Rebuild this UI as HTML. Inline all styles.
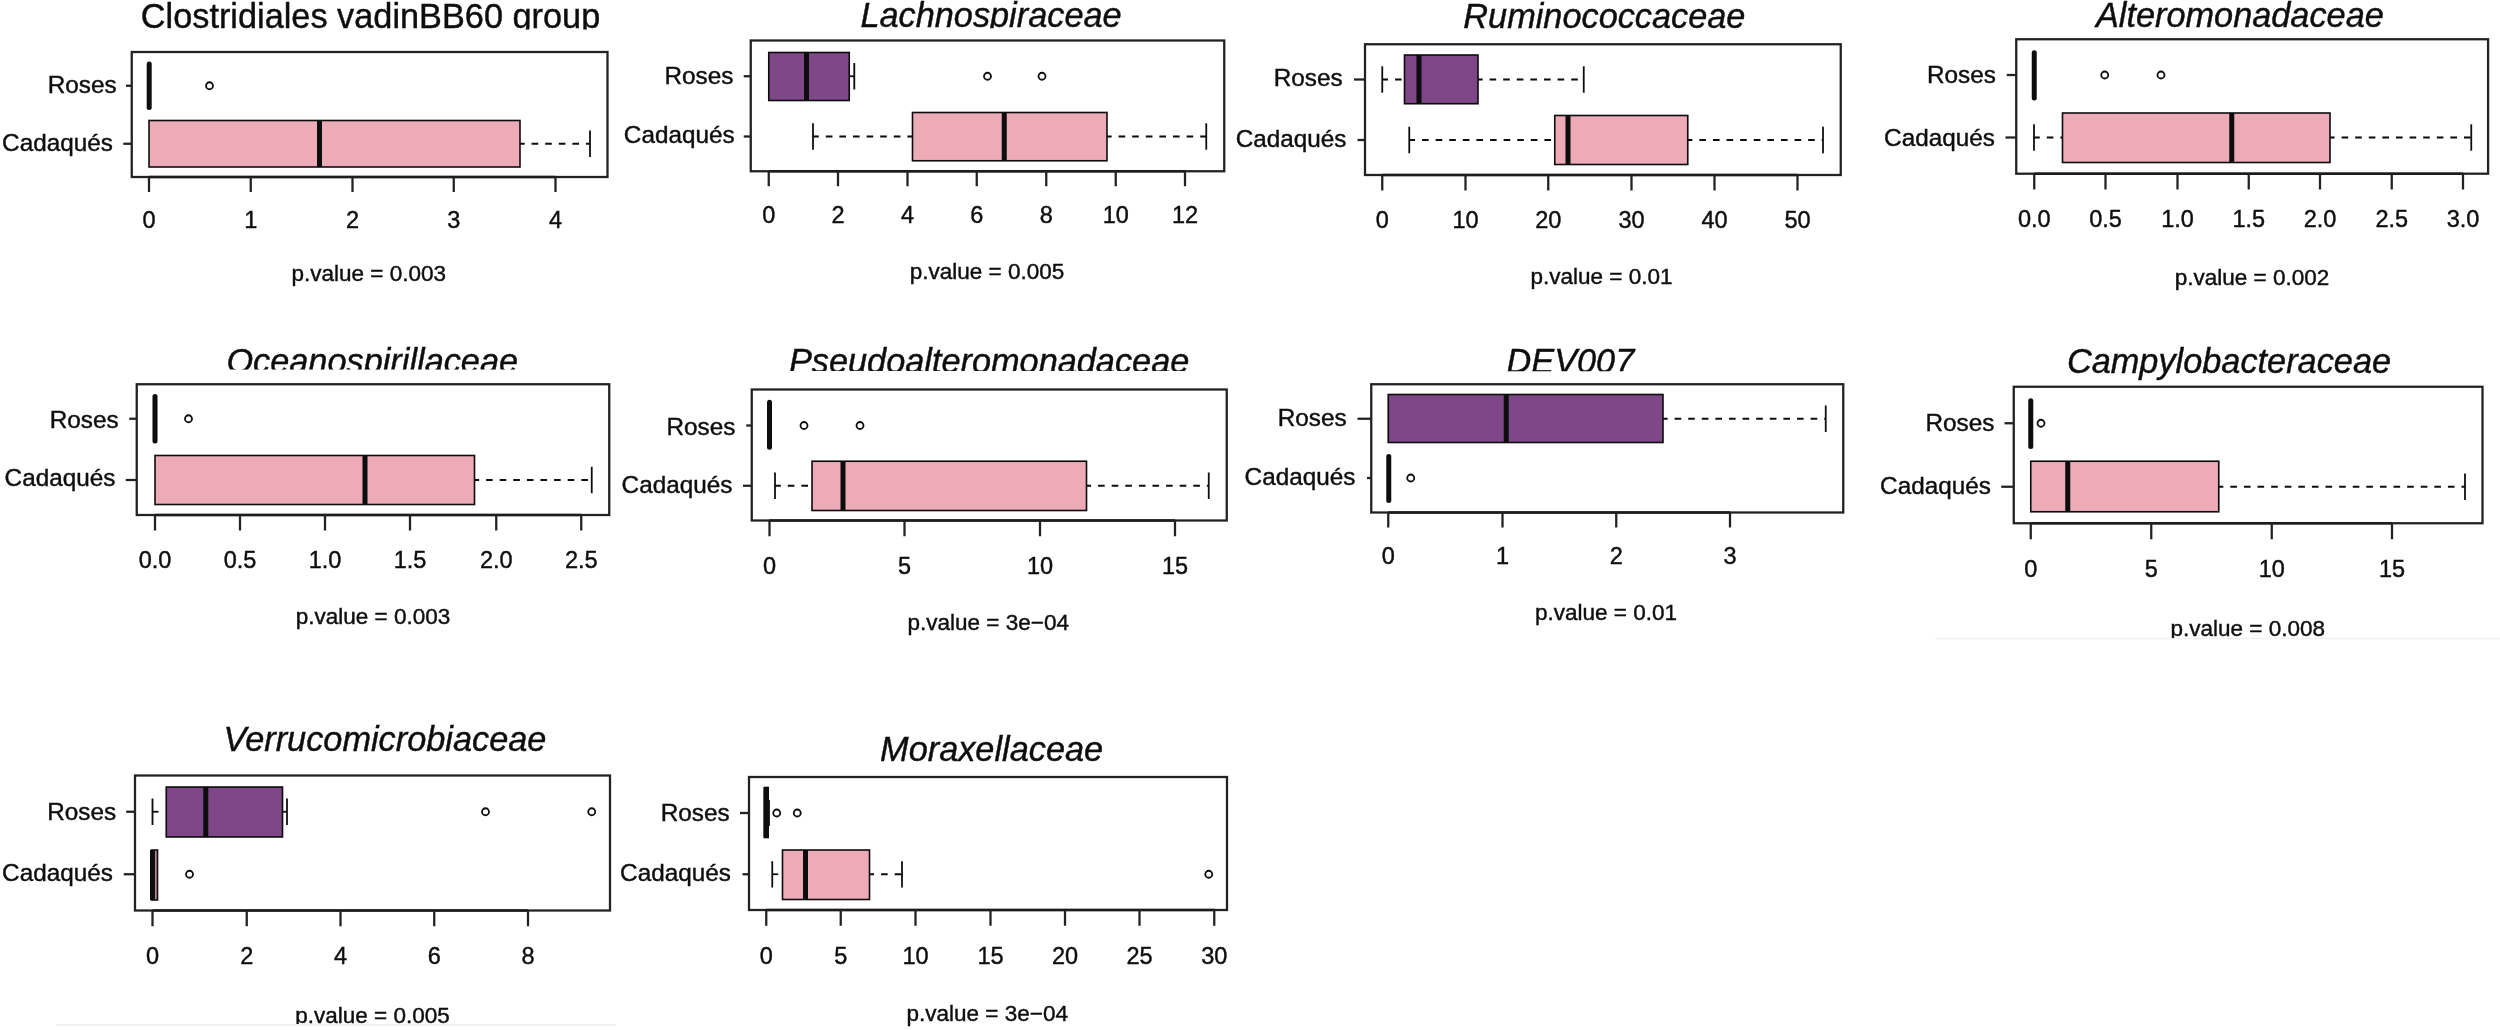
<!DOCTYPE html>
<html lang="en">
<head>
<meta charset="utf-8">
<title>Boxplots: Roses vs Cadaqués</title>
<style>
html,body{margin:0;padding:0;background:#fff;}
body{width:2500px;height:1030px;overflow:hidden;}
svg{display:block;}
svg text{font-family:"Liberation Sans",sans-serif;fill:#0b0b0b;stroke:#0b0b0b;stroke-width:0.4px;}
</style>
</head>
<body>
<svg width="2500" height="1030" viewBox="0 0 2500 1030" stroke="#0b0b0b" fill="#0b0b0b">
<defs>
<filter id="soft" x="0" y="0" width="2500" height="1030" filterUnits="userSpaceOnUse"><feGaussianBlur stdDeviation="0.55"/></filter>
<clipPath id="c1"><rect x="111" y="0" width="519" height="29.5"/></clipPath>
<clipPath id="c2"><rect x="831" y="0" width="320" height="28.3"/></clipPath>
<clipPath id="c3"><rect x="197.5" y="312.5" width="349.5" height="57"/></clipPath>
<clipPath id="c4"><rect x="759.5" y="313" width="459.25" height="57.9"/></clipPath>
<clipPath id="c5"><rect x="1477" y="313" width="186.75" height="58.25"/></clipPath>
<clipPath id="c6"><rect x="2151.5" y="596" width="192.5" height="42"/></clipPath>
<clipPath id="c7"><rect x="275" y="983" width="195" height="41"/></clipPath>
</defs>
<rect x="0" y="0" width="2500" height="1030" fill="#fff" stroke="none"/>
<g filter="url(#soft)">
<line x1="56" y1="1025" x2="616" y2="1025" stroke="#ededed" stroke-width="1.5"/>
<line x1="1935" y1="638.5" x2="2500" y2="638.5" stroke="#f1f1f1" stroke-width="1.5"/>
<g>
<text x="370.5" y="28" font-size="34.3" text-anchor="middle" clip-path="url(#c1)">Clostridiales vadinBB60 group</text>
<line x1="126" y1="85.75" x2="131.75" y2="85.75" stroke-width="2.3" stroke="#242424"/>
<text x="82.25" y="93" font-size="24.3" text-anchor="middle">Roses</text>
<line x1="149.2" y1="64" x2="149.2" y2="107.5" stroke-width="5" stroke-linecap="round"/>
<circle cx="209.5" cy="85.75" r="3.5" fill="none" stroke-width="1.8"/>
<line x1="123.3" y1="143.75" x2="131.75" y2="143.75" stroke-width="2.3" stroke="#242424"/>
<text x="57.5" y="151" font-size="24.3" text-anchor="middle">Cadaqués</text>
<line x1="520" y1="143.75" x2="590" y2="143.75" stroke-width="1.8" stroke-dasharray="6.6 7" stroke-dashoffset="2"/>
<line x1="590" y1="130.55" x2="590" y2="156.95" stroke-width="1.8"/>
<rect x="149" y="120.5" width="371" height="46.5" fill="#edabb8" stroke-width="1.6"/>
<line x1="319.5" y1="120.5" x2="319.5" y2="167" stroke-width="5"/>
<rect x="131.75" y="52" width="475.75" height="125" fill="none" stroke="#242424" stroke-width="2.3"/>
<line x1="149" y1="177" x2="555.5" y2="177" stroke-width="2.6" stroke="#1c1c1c"/>
<line x1="149" y1="177" x2="149" y2="192" stroke-width="2.3" stroke="#242424"/>
<text x="149" y="227.6" font-size="23.5" text-anchor="middle">0</text>
<line x1="250.75" y1="177" x2="250.75" y2="192" stroke-width="2.3" stroke="#242424"/>
<text x="250.75" y="227.6" font-size="23.5" text-anchor="middle">1</text>
<line x1="352.5" y1="177" x2="352.5" y2="192" stroke-width="2.3" stroke="#242424"/>
<text x="352.5" y="227.6" font-size="23.5" text-anchor="middle">2</text>
<line x1="453.75" y1="177" x2="453.75" y2="192" stroke-width="2.3" stroke="#242424"/>
<text x="453.75" y="227.6" font-size="23.5" text-anchor="middle">3</text>
<line x1="555.5" y1="177" x2="555.5" y2="192" stroke-width="2.3" stroke="#242424"/>
<text x="555.5" y="227.6" font-size="23.5" text-anchor="middle">4</text>
<text x="368.75" y="281" font-size="22.5" text-anchor="middle">p.value = 0.003</text>
</g>
<g>
<text x="991" y="27" font-size="34.3" text-anchor="middle" font-style="italic" clip-path="url(#c2)">Lachnospiraceae</text>
<line x1="743.75" y1="76.25" x2="750.75" y2="76.25" stroke-width="2.3" stroke="#242424"/>
<text x="699" y="84.25" font-size="24.3" text-anchor="middle">Roses</text>
<line x1="849.25" y1="76.25" x2="854.3" y2="76.25" stroke-width="1.8"/>
<line x1="854.3" y1="63.05" x2="854.3" y2="89.45" stroke-width="1.8"/>
<rect x="768.75" y="52.5" width="80.5" height="48" fill="#7d4788" stroke-width="1.6"/>
<line x1="806.5" y1="52.5" x2="806.5" y2="100.5" stroke-width="5"/>
<circle cx="987.5" cy="76.25" r="3.5" fill="none" stroke-width="1.8"/>
<circle cx="1042" cy="76.25" r="3.5" fill="none" stroke-width="1.8"/>
<line x1="743.75" y1="136.5" x2="750.75" y2="136.5" stroke-width="2.3" stroke="#242424"/>
<text x="679.25" y="143" font-size="24.3" text-anchor="middle">Cadaqués</text>
<line x1="813" y1="136.5" x2="912.5" y2="136.5" stroke-width="1.8" stroke-dasharray="6.6 7" stroke-dashoffset="0.8"/>
<line x1="813" y1="123.3" x2="813" y2="149.7" stroke-width="1.8"/>
<line x1="1107" y1="136.5" x2="1206.25" y2="136.5" stroke-width="1.8" stroke-dasharray="6.6 7" stroke-dashoffset="2"/>
<line x1="1206.25" y1="123.3" x2="1206.25" y2="149.7" stroke-width="1.8"/>
<rect x="912.5" y="112.5" width="194.5" height="48.25" fill="#edabb8" stroke-width="1.6"/>
<line x1="1004.25" y1="112.5" x2="1004.25" y2="160.75" stroke-width="5"/>
<rect x="750.75" y="40.5" width="473.5" height="130.75" fill="none" stroke="#242424" stroke-width="2.3"/>
<line x1="768.75" y1="171.25" x2="1185" y2="171.25" stroke-width="2.6" stroke="#1c1c1c"/>
<line x1="768.75" y1="171.25" x2="768.75" y2="186.25" stroke-width="2.3" stroke="#242424"/>
<text x="768.75" y="223.1" font-size="23.5" text-anchor="middle">0</text>
<line x1="838" y1="171.25" x2="838" y2="186.25" stroke-width="2.3" stroke="#242424"/>
<text x="838" y="223.1" font-size="23.5" text-anchor="middle">2</text>
<line x1="907.5" y1="171.25" x2="907.5" y2="186.25" stroke-width="2.3" stroke="#242424"/>
<text x="907.5" y="223.1" font-size="23.5" text-anchor="middle">4</text>
<line x1="976.75" y1="171.25" x2="976.75" y2="186.25" stroke-width="2.3" stroke="#242424"/>
<text x="976.75" y="223.1" font-size="23.5" text-anchor="middle">6</text>
<line x1="1046.25" y1="171.25" x2="1046.25" y2="186.25" stroke-width="2.3" stroke="#242424"/>
<text x="1046.25" y="223.1" font-size="23.5" text-anchor="middle">8</text>
<line x1="1115.75" y1="171.25" x2="1115.75" y2="186.25" stroke-width="2.3" stroke="#242424"/>
<text x="1115.75" y="223.1" font-size="23.5" text-anchor="middle">10</text>
<line x1="1185" y1="171.25" x2="1185" y2="186.25" stroke-width="2.3" stroke="#242424"/>
<text x="1185" y="223.1" font-size="23.5" text-anchor="middle">12</text>
<text x="987" y="279" font-size="22.5" text-anchor="middle">p.value = 0.005</text>
</g>
<g>
<text x="1604.38" y="27.5" font-size="34.3" text-anchor="middle" font-style="italic">Ruminococcaceae</text>
<line x1="1354" y1="79.5" x2="1365" y2="79.5" stroke-width="2.3" stroke="#242424"/>
<text x="1308.25" y="86.25" font-size="24.3" text-anchor="middle">Roses</text>
<line x1="1382.25" y1="79.5" x2="1404.5" y2="79.5" stroke-width="1.8" stroke-dasharray="6.6 7" stroke-dashoffset="0.8"/>
<line x1="1382.25" y1="66.3" x2="1382.25" y2="92.7" stroke-width="1.8"/>
<line x1="1478" y1="79.5" x2="1583.75" y2="79.5" stroke-width="1.8" stroke-dasharray="6.6 7" stroke-dashoffset="2"/>
<line x1="1583.75" y1="66.3" x2="1583.75" y2="92.7" stroke-width="1.8"/>
<rect x="1404.5" y="55" width="73.5" height="48.7" fill="#7d4788" stroke-width="1.6"/>
<line x1="1419" y1="55" x2="1419" y2="103.7" stroke-width="5"/>
<line x1="1357.5" y1="140" x2="1365" y2="140" stroke-width="2.3" stroke="#242424"/>
<text x="1291.12" y="147" font-size="24.3" text-anchor="middle">Cadaqués</text>
<line x1="1409.25" y1="140" x2="1554.75" y2="140" stroke-width="1.8" stroke-dasharray="6.6 7" stroke-dashoffset="0.8"/>
<line x1="1409.25" y1="126.8" x2="1409.25" y2="153.2" stroke-width="1.8"/>
<line x1="1687.75" y1="140" x2="1823" y2="140" stroke-width="1.8" stroke-dasharray="6.6 7" stroke-dashoffset="2"/>
<line x1="1823" y1="126.8" x2="1823" y2="153.2" stroke-width="1.8"/>
<rect x="1554.75" y="115.5" width="133" height="49" fill="#edabb8" stroke-width="1.6"/>
<line x1="1568" y1="115.5" x2="1568" y2="164.5" stroke-width="5"/>
<rect x="1365" y="44.25" width="475.75" height="130.75" fill="none" stroke="#242424" stroke-width="2.3"/>
<line x1="1382.25" y1="175" x2="1797.5" y2="175" stroke-width="2.6" stroke="#1c1c1c"/>
<line x1="1382.25" y1="175" x2="1382.25" y2="190.5" stroke-width="2.3" stroke="#242424"/>
<text x="1382.25" y="227.6" font-size="23.5" text-anchor="middle">0</text>
<line x1="1465.5" y1="175" x2="1465.5" y2="190.5" stroke-width="2.3" stroke="#242424"/>
<text x="1465.5" y="227.6" font-size="23.5" text-anchor="middle">10</text>
<line x1="1548.25" y1="175" x2="1548.25" y2="190.5" stroke-width="2.3" stroke="#242424"/>
<text x="1548.25" y="227.6" font-size="23.5" text-anchor="middle">20</text>
<line x1="1631.5" y1="175" x2="1631.5" y2="190.5" stroke-width="2.3" stroke="#242424"/>
<text x="1631.5" y="227.6" font-size="23.5" text-anchor="middle">30</text>
<line x1="1714.5" y1="175" x2="1714.5" y2="190.5" stroke-width="2.3" stroke="#242424"/>
<text x="1714.5" y="227.6" font-size="23.5" text-anchor="middle">40</text>
<line x1="1797.5" y1="175" x2="1797.5" y2="190.5" stroke-width="2.3" stroke="#242424"/>
<text x="1797.5" y="227.6" font-size="23.5" text-anchor="middle">50</text>
<text x="1601.5" y="284" font-size="22.5" text-anchor="middle">p.value = 0.01</text>
</g>
<g>
<text x="2239.88" y="27" font-size="34.3" text-anchor="middle" font-style="italic">Alteromonadaceae</text>
<line x1="2006.75" y1="75" x2="2016.25" y2="75" stroke-width="2.3" stroke="#242424"/>
<text x="1961.5" y="82.5" font-size="24.3" text-anchor="middle">Roses</text>
<line x1="2034.25" y1="52.75" x2="2034.25" y2="98" stroke-width="5" stroke-linecap="round"/>
<circle cx="2104.75" cy="75" r="3.5" fill="none" stroke-width="1.8"/>
<circle cx="2161" cy="75" r="3.5" fill="none" stroke-width="1.8"/>
<line x1="2005.5" y1="137.5" x2="2016.25" y2="137.5" stroke-width="2.3" stroke="#242424"/>
<text x="1939.5" y="145.5" font-size="24.3" text-anchor="middle">Cadaqués</text>
<line x1="2034" y1="137.5" x2="2062.5" y2="137.5" stroke-width="1.8" stroke-dasharray="6.6 7" stroke-dashoffset="0.8"/>
<line x1="2034" y1="124.3" x2="2034" y2="150.7" stroke-width="1.8"/>
<line x1="2330" y1="137.5" x2="2471.25" y2="137.5" stroke-width="1.8" stroke-dasharray="6.6 7" stroke-dashoffset="2"/>
<line x1="2471.25" y1="124.3" x2="2471.25" y2="150.7" stroke-width="1.8"/>
<rect x="2062.5" y="113" width="267.5" height="49.5" fill="#edabb8" stroke-width="1.6"/>
<line x1="2231.75" y1="113" x2="2231.75" y2="162.5" stroke-width="5"/>
<rect x="2016.25" y="39.25" width="471.85" height="134.45" fill="none" stroke="#242424" stroke-width="2.3"/>
<line x1="2034.25" y1="173.7" x2="2463" y2="173.7" stroke-width="2.6" stroke="#1c1c1c"/>
<line x1="2034.25" y1="173.7" x2="2034.25" y2="189.5" stroke-width="2.3" stroke="#242424"/>
<text x="2034.25" y="227.35" font-size="23.5" text-anchor="middle">0.0</text>
<line x1="2105.5" y1="173.7" x2="2105.5" y2="189.5" stroke-width="2.3" stroke="#242424"/>
<text x="2105.5" y="227.35" font-size="23.5" text-anchor="middle">0.5</text>
<line x1="2177.5" y1="173.7" x2="2177.5" y2="189.5" stroke-width="2.3" stroke="#242424"/>
<text x="2177.5" y="227.35" font-size="23.5" text-anchor="middle">1.0</text>
<line x1="2248.75" y1="173.7" x2="2248.75" y2="189.5" stroke-width="2.3" stroke="#242424"/>
<text x="2248.75" y="227.35" font-size="23.5" text-anchor="middle">1.5</text>
<line x1="2320" y1="173.7" x2="2320" y2="189.5" stroke-width="2.3" stroke="#242424"/>
<text x="2320" y="227.35" font-size="23.5" text-anchor="middle">2.0</text>
<line x1="2391.75" y1="173.7" x2="2391.75" y2="189.5" stroke-width="2.3" stroke="#242424"/>
<text x="2391.75" y="227.35" font-size="23.5" text-anchor="middle">2.5</text>
<line x1="2463" y1="173.7" x2="2463" y2="189.5" stroke-width="2.3" stroke="#242424"/>
<text x="2463" y="227.35" font-size="23.5" text-anchor="middle">3.0</text>
<text x="2252" y="285" font-size="22.5" text-anchor="middle">p.value = 0.002</text>
</g>
<g>
<text x="372.25" y="372.5" font-size="34.3" text-anchor="middle" font-style="italic" clip-path="url(#c3)">Oceanospirillaceae</text>
<line x1="129.25" y1="418.75" x2="136.75" y2="418.75" stroke-width="2.3" stroke="#242424"/>
<text x="84.12" y="428" font-size="24.3" text-anchor="middle">Roses</text>
<line x1="155" y1="396.5" x2="155" y2="441" stroke-width="5" stroke-linecap="round"/>
<circle cx="188.5" cy="418.75" r="3.5" fill="none" stroke-width="1.8"/>
<line x1="125.75" y1="480" x2="136.75" y2="480" stroke-width="2.3" stroke="#242424"/>
<text x="60" y="486.25" font-size="24.3" text-anchor="middle">Cadaqués</text>
<line x1="474.5" y1="480" x2="591.75" y2="480" stroke-width="1.8" stroke-dasharray="6.6 7" stroke-dashoffset="2"/>
<line x1="591.75" y1="466.8" x2="591.75" y2="493.2" stroke-width="1.8"/>
<rect x="155" y="455.5" width="319.5" height="49" fill="#edabb8" stroke-width="1.6"/>
<line x1="365" y1="455.5" x2="365" y2="504.5" stroke-width="5"/>
<rect x="136.75" y="384.25" width="472.5" height="130.75" fill="none" stroke="#242424" stroke-width="2.3"/>
<line x1="155" y1="515" x2="581.25" y2="515" stroke-width="2.6" stroke="#1c1c1c"/>
<line x1="155" y1="515" x2="155" y2="530.5" stroke-width="2.3" stroke="#242424"/>
<text x="155" y="567.6" font-size="23.5" text-anchor="middle">0.0</text>
<line x1="240" y1="515" x2="240" y2="530.5" stroke-width="2.3" stroke="#242424"/>
<text x="240" y="567.6" font-size="23.5" text-anchor="middle">0.5</text>
<line x1="325" y1="515" x2="325" y2="530.5" stroke-width="2.3" stroke="#242424"/>
<text x="325" y="567.6" font-size="23.5" text-anchor="middle">1.0</text>
<line x1="410" y1="515" x2="410" y2="530.5" stroke-width="2.3" stroke="#242424"/>
<text x="410" y="567.6" font-size="23.5" text-anchor="middle">1.5</text>
<line x1="496.25" y1="515" x2="496.25" y2="530.5" stroke-width="2.3" stroke="#242424"/>
<text x="496.25" y="567.6" font-size="23.5" text-anchor="middle">2.0</text>
<line x1="581.25" y1="515" x2="581.25" y2="530.5" stroke-width="2.3" stroke="#242424"/>
<text x="581.25" y="567.6" font-size="23.5" text-anchor="middle">2.5</text>
<text x="373" y="624" font-size="22.5" text-anchor="middle">p.value = 0.003</text>
</g>
<g>
<text x="989.12" y="373" font-size="34.3" text-anchor="middle" font-style="italic" clip-path="url(#c4)">Pseudoalteromonadaceae</text>
<line x1="746.25" y1="425.5" x2="751.75" y2="425.5" stroke-width="2.3" stroke="#242424"/>
<text x="701" y="434.5" font-size="24.3" text-anchor="middle">Roses</text>
<line x1="769.5" y1="402.25" x2="769.5" y2="447.25" stroke-width="5" stroke-linecap="round"/>
<circle cx="804" cy="425.5" r="3.5" fill="none" stroke-width="1.8"/>
<circle cx="860" cy="425.5" r="3.5" fill="none" stroke-width="1.8"/>
<line x1="743" y1="485.75" x2="751.75" y2="485.75" stroke-width="2.3" stroke="#242424"/>
<text x="677" y="492.5" font-size="24.3" text-anchor="middle">Cadaqués</text>
<line x1="775" y1="485.75" x2="812" y2="485.75" stroke-width="1.8" stroke-dasharray="6.6 7" stroke-dashoffset="0.8"/>
<line x1="775" y1="472.55" x2="775" y2="498.95" stroke-width="1.8"/>
<line x1="1086.5" y1="485.75" x2="1208.75" y2="485.75" stroke-width="1.8" stroke-dasharray="6.6 7" stroke-dashoffset="2"/>
<line x1="1208.75" y1="472.55" x2="1208.75" y2="498.95" stroke-width="1.8"/>
<rect x="812" y="461.25" width="274.5" height="49.25" fill="#edabb8" stroke-width="1.6"/>
<line x1="843" y1="461.25" x2="843" y2="510.5" stroke-width="5"/>
<rect x="751.75" y="389.5" width="475" height="131" fill="none" stroke="#242424" stroke-width="2.3"/>
<line x1="769.5" y1="520.5" x2="1175" y2="520.5" stroke-width="2.6" stroke="#1c1c1c"/>
<line x1="769.5" y1="520.5" x2="769.5" y2="536.25" stroke-width="2.3" stroke="#242424"/>
<text x="769.5" y="573.6" font-size="23.5" text-anchor="middle">0</text>
<line x1="904.5" y1="520.5" x2="904.5" y2="536.25" stroke-width="2.3" stroke="#242424"/>
<text x="904.5" y="573.6" font-size="23.5" text-anchor="middle">5</text>
<line x1="1040" y1="520.5" x2="1040" y2="536.25" stroke-width="2.3" stroke="#242424"/>
<text x="1040" y="573.6" font-size="23.5" text-anchor="middle">10</text>
<line x1="1175" y1="520.5" x2="1175" y2="536.25" stroke-width="2.3" stroke="#242424"/>
<text x="1175" y="573.6" font-size="23.5" text-anchor="middle">15</text>
<text x="988.25" y="630" font-size="22.5" text-anchor="middle">p.value = 3e−04</text>
</g>
<g>
<text x="1570.38" y="373" font-size="34.3" text-anchor="middle" font-style="italic" clip-path="url(#c5)">DEV007</text>
<line x1="1357.5" y1="418.75" x2="1371.25" y2="418.75" stroke-width="2.3" stroke="#242424"/>
<text x="1312.25" y="425.5" font-size="24.3" text-anchor="middle">Roses</text>
<line x1="1663" y1="418.75" x2="1825.75" y2="418.75" stroke-width="1.8" stroke-dasharray="6.6 7" stroke-dashoffset="2"/>
<line x1="1825.75" y1="405.55" x2="1825.75" y2="431.95" stroke-width="1.8"/>
<rect x="1388.25" y="394.5" width="274.75" height="48" fill="#7d4788" stroke-width="1.6"/>
<line x1="1506.25" y1="394.5" x2="1506.25" y2="442.5" stroke-width="5"/>
<line x1="1367" y1="478" x2="1371.25" y2="478" stroke-width="2.3" stroke="#242424"/>
<text x="1300" y="485" font-size="24.3" text-anchor="middle">Cadaqués</text>
<line x1="1388.75" y1="456.5" x2="1388.75" y2="500.5" stroke-width="5" stroke-linecap="round"/>
<circle cx="1410.75" cy="478" r="3.5" fill="none" stroke-width="1.8"/>
<rect x="1371.25" y="384.25" width="472" height="128.25" fill="none" stroke="#242424" stroke-width="2.3"/>
<line x1="1388.25" y1="512.5" x2="1730" y2="512.5" stroke-width="2.6" stroke="#1c1c1c"/>
<line x1="1388.25" y1="512.5" x2="1388.25" y2="527.5" stroke-width="2.3" stroke="#242424"/>
<text x="1388.25" y="563.85" font-size="23.5" text-anchor="middle">0</text>
<line x1="1502.5" y1="512.5" x2="1502.5" y2="527.5" stroke-width="2.3" stroke="#242424"/>
<text x="1502.5" y="563.85" font-size="23.5" text-anchor="middle">1</text>
<line x1="1616.25" y1="512.5" x2="1616.25" y2="527.5" stroke-width="2.3" stroke="#242424"/>
<text x="1616.25" y="563.85" font-size="23.5" text-anchor="middle">2</text>
<line x1="1730" y1="512.5" x2="1730" y2="527.5" stroke-width="2.3" stroke="#242424"/>
<text x="1730" y="563.85" font-size="23.5" text-anchor="middle">3</text>
<text x="1606" y="620" font-size="22.5" text-anchor="middle">p.value = 0.01</text>
</g>
<g>
<text x="2229" y="372.5" font-size="34.3" text-anchor="middle" font-style="italic">Campylobacteraceae</text>
<line x1="2004.5" y1="423.25" x2="2013.75" y2="423.25" stroke-width="2.3" stroke="#242424"/>
<text x="1960" y="430.75" font-size="24.3" text-anchor="middle">Roses</text>
<line x1="2030.75" y1="400.75" x2="2030.75" y2="446.5" stroke-width="5" stroke-linecap="round"/>
<circle cx="2041" cy="423.25" r="3.5" fill="none" stroke-width="1.8"/>
<line x1="2001.25" y1="486.75" x2="2013.75" y2="486.75" stroke-width="2.3" stroke="#242424"/>
<text x="1935.5" y="494.25" font-size="24.3" text-anchor="middle">Cadaqués</text>
<line x1="2218.75" y1="486.75" x2="2465" y2="486.75" stroke-width="1.8" stroke-dasharray="6.6 7" stroke-dashoffset="2"/>
<line x1="2465" y1="473.55" x2="2465" y2="499.95" stroke-width="1.8"/>
<rect x="2030.75" y="461.25" width="188" height="50.5" fill="#edabb8" stroke-width="1.6"/>
<line x1="2067.75" y1="461.25" x2="2067.75" y2="511.75" stroke-width="5"/>
<rect x="2013.75" y="386.75" width="468.75" height="136.5" fill="none" stroke="#242424" stroke-width="2.3"/>
<line x1="2030.75" y1="523.25" x2="2392" y2="523.25" stroke-width="2.6" stroke="#1c1c1c"/>
<line x1="2030.75" y1="523.25" x2="2030.75" y2="539.25" stroke-width="2.3" stroke="#242424"/>
<text x="2030.75" y="576.85" font-size="23.5" text-anchor="middle">0</text>
<line x1="2151.25" y1="523.25" x2="2151.25" y2="539.25" stroke-width="2.3" stroke="#242424"/>
<text x="2151.25" y="576.85" font-size="23.5" text-anchor="middle">5</text>
<line x1="2271.75" y1="523.25" x2="2271.75" y2="539.25" stroke-width="2.3" stroke="#242424"/>
<text x="2271.75" y="576.85" font-size="23.5" text-anchor="middle">10</text>
<line x1="2392" y1="523.25" x2="2392" y2="539.25" stroke-width="2.3" stroke="#242424"/>
<text x="2392" y="576.85" font-size="23.5" text-anchor="middle">15</text>
<text x="2247.75" y="636" font-size="22.5" text-anchor="middle" clip-path="url(#c6)">p.value = 0.008</text>
</g>
<g>
<text x="385" y="750.5" font-size="34.3" text-anchor="middle" font-style="italic">Verrucomicrobiaceae</text>
<line x1="126.25" y1="811.75" x2="135" y2="811.75" stroke-width="2.3" stroke="#242424"/>
<text x="81.75" y="819.5" font-size="24.3" text-anchor="middle">Roses</text>
<line x1="152.5" y1="811.75" x2="158.5" y2="811.75" stroke-width="1.8"/>
<line x1="152.5" y1="798.55" x2="152.5" y2="824.95" stroke-width="1.8"/>
<line x1="282.5" y1="811.75" x2="287" y2="811.75" stroke-width="1.8"/>
<line x1="287" y1="798.55" x2="287" y2="824.95" stroke-width="1.8"/>
<rect x="166.25" y="787" width="116.25" height="50" fill="#7d4788" stroke-width="1.6"/>
<line x1="205.75" y1="787" x2="205.75" y2="837" stroke-width="5"/>
<circle cx="485.5" cy="811.75" r="3.5" fill="none" stroke-width="1.8"/>
<circle cx="591.75" cy="811.75" r="3.5" fill="none" stroke-width="1.8"/>
<line x1="123.75" y1="874.25" x2="135" y2="874.25" stroke-width="2.3" stroke="#242424"/>
<text x="57.5" y="881.25" font-size="24.3" text-anchor="middle">Cadaqués</text>
<rect x="151.5" y="850" width="6" height="50" fill="#b98590" stroke-width="1.6"/>
<line x1="152.5" y1="850" x2="152.5" y2="900" stroke-width="5"/>
<circle cx="189.5" cy="874.25" r="3.5" fill="none" stroke-width="1.8"/>
<rect x="135" y="775.5" width="475" height="135" fill="none" stroke="#242424" stroke-width="2.3"/>
<line x1="152.5" y1="910.5" x2="528" y2="910.5" stroke-width="2.6" stroke="#1c1c1c"/>
<line x1="152.5" y1="910.5" x2="152.5" y2="926.25" stroke-width="2.3" stroke="#242424"/>
<text x="152.5" y="964.35" font-size="23.5" text-anchor="middle">0</text>
<line x1="246.75" y1="910.5" x2="246.75" y2="926.25" stroke-width="2.3" stroke="#242424"/>
<text x="246.75" y="964.35" font-size="23.5" text-anchor="middle">2</text>
<line x1="340.5" y1="910.5" x2="340.5" y2="926.25" stroke-width="2.3" stroke="#242424"/>
<text x="340.5" y="964.35" font-size="23.5" text-anchor="middle">4</text>
<line x1="434.25" y1="910.5" x2="434.25" y2="926.25" stroke-width="2.3" stroke="#242424"/>
<text x="434.25" y="964.35" font-size="23.5" text-anchor="middle">6</text>
<line x1="528" y1="910.5" x2="528" y2="926.25" stroke-width="2.3" stroke="#242424"/>
<text x="528" y="964.35" font-size="23.5" text-anchor="middle">8</text>
<text x="372.5" y="1023" font-size="22.5" text-anchor="middle" clip-path="url(#c7)">p.value = 0.005</text>
</g>
<g>
<text x="991.62" y="760.75" font-size="34.3" text-anchor="middle" font-style="italic">Moraxellaceae</text>
<line x1="740" y1="813" x2="749" y2="813" stroke-width="2.3" stroke="#242424"/>
<text x="695.25" y="820.75" font-size="24.3" text-anchor="middle">Roses</text>
<line x1="764.5" y1="813" x2="769" y2="813" stroke-width="1.8"/>
<line x1="769" y1="800" x2="769" y2="826" stroke-width="1.8"/>
<rect x="764.5" y="787.5" width="3.7" height="50" fill="#111" stroke-width="1.6"/>
<line x1="766" y1="787.5" x2="766" y2="837.5" stroke-width="5"/>
<circle cx="776.75" cy="813" r="3.5" fill="none" stroke-width="1.8"/>
<circle cx="797.25" cy="813" r="3.5" fill="none" stroke-width="1.8"/>
<line x1="742.5" y1="874.25" x2="749" y2="874.25" stroke-width="2.3" stroke="#242424"/>
<text x="675.5" y="881.25" font-size="24.3" text-anchor="middle">Cadaqués</text>
<line x1="772.25" y1="874.25" x2="778.25" y2="874.25" stroke-width="1.8"/>
<line x1="772.25" y1="861.2" x2="772.25" y2="887.5" stroke-width="1.8"/>
<line x1="869.5" y1="874.25" x2="902" y2="874.25" stroke-width="1.8" stroke-dasharray="6.6 7" stroke-dashoffset="2"/>
<line x1="902" y1="861.2" x2="902" y2="887.5" stroke-width="1.8"/>
<rect x="782.5" y="850" width="87" height="49.5" fill="#edabb8" stroke-width="1.6"/>
<line x1="805.5" y1="850" x2="805.5" y2="899.5" stroke-width="5"/>
<circle cx="1208.75" cy="874.25" r="3.5" fill="none" stroke-width="1.8"/>
<rect x="749" y="777" width="478" height="133" fill="none" stroke="#242424" stroke-width="2.3"/>
<line x1="766.25" y1="910" x2="1214.25" y2="910" stroke-width="2.6" stroke="#1c1c1c"/>
<line x1="766.25" y1="910" x2="766.25" y2="925.75" stroke-width="2.3" stroke="#242424"/>
<text x="766.25" y="963.6" font-size="23.5" text-anchor="middle">0</text>
<line x1="840.75" y1="910" x2="840.75" y2="925.75" stroke-width="2.3" stroke="#242424"/>
<text x="840.75" y="963.6" font-size="23.5" text-anchor="middle">5</text>
<line x1="915.5" y1="910" x2="915.5" y2="925.75" stroke-width="2.3" stroke="#242424"/>
<text x="915.5" y="963.6" font-size="23.5" text-anchor="middle">10</text>
<line x1="990.5" y1="910" x2="990.5" y2="925.75" stroke-width="2.3" stroke="#242424"/>
<text x="990.5" y="963.6" font-size="23.5" text-anchor="middle">15</text>
<line x1="1065" y1="910" x2="1065" y2="925.75" stroke-width="2.3" stroke="#242424"/>
<text x="1065" y="963.6" font-size="23.5" text-anchor="middle">20</text>
<line x1="1139.5" y1="910" x2="1139.5" y2="925.75" stroke-width="2.3" stroke="#242424"/>
<text x="1139.5" y="963.6" font-size="23.5" text-anchor="middle">25</text>
<line x1="1214.25" y1="910" x2="1214.25" y2="925.75" stroke-width="2.3" stroke="#242424"/>
<text x="1214.25" y="963.6" font-size="23.5" text-anchor="middle">30</text>
<text x="987.25" y="1021" font-size="22.5" text-anchor="middle">p.value = 3e−04</text>
</g>
</g>
</svg>
</body>
</html>
